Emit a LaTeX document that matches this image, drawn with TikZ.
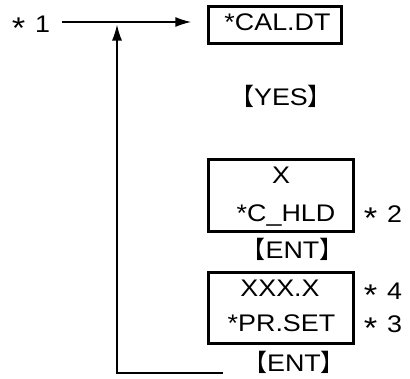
\documentclass[tikz,border=0pt]{standalone}
\usepackage{fontspec}
\setmainfont[FakeStretch=1.12]{Liberation Sans}
\newfontfamily\starfont[FakeStretch=1.15]{Liberation Sans}
\newfontfamily\cjk{Noto Sans CJK JP}
\newcommand{\bigstar}{{\fontsize{30}{30}\selectfont\starfont\raisebox{-6.5pt}[12pt][0pt]{*}}}
\usetikzlibrary{arrows.meta}
\begin{document}
\begin{tikzpicture}[x=1pt,y=-1pt,
  box/.style={draw, line width=3.4pt, inner sep=0pt},
  txt/.style={font=\fontsize{24}{28}\selectfont, inner sep=0pt, anchor=base},
  thin/.style={line width=1.5pt},
  arr/.style={thin, -{Latex[length=16pt,width=10pt]}}]
\useasboundingbox (0,0) rectangle (410,378);
% boxes
\node[box, minimum width=133pt, minimum height=37pt] (calbox) at (275,25) {};
\node[box, minimum width=145pt, minimum height=72pt] (hldbox) at (281,195.5) {};
\node[box, minimum width=145pt, minimum height=71pt] (setbox) at (281,308) {};
% texts
\node[txt] (cal) at (277.5,30.5) {*CAL.DT};
\node[txt] (yes) at (281,105.5) {{\cjk 【}YES{\cjk 】}};
\node[txt] (x1) at (281,183.5) {X};
\node[txt] (hld) at (286,221.5) {*C\_HLD};
\node[txt] (ent1) at (292.5,258.5) {{\cjk 【}ENT{\cjk 】}};
\node[txt] (xxx) at (280,296.5) {XXX.X};
\node[txt] (set) at (281.5,331.5) {*PR.SET};
\node[txt] (ent2) at (294,371.5) {{\cjk 【}ENT{\cjk 】}};
\node[txt] (s1) at (31,32) {\bigstar\hspace{10pt}1};
\node[txt] (s2) at (383,222) {\bigstar\hspace{10pt}2};
\node[txt] (s4) at (383,299) {\bigstar\hspace{10pt}4};
\node[txt] (s3) at (383,332) {\bigstar\hspace{10pt}3};
% connectors
\coordinate (j) at (117,22);
\coordinate (r) at (223,373);
\draw[arr, shorten <=12pt, shorten >=15.5pt] (s1.east |- j) -- (calbox.west |- j);
\draw[arr, shorten >=2.5pt] (r) -| (j);
\end{tikzpicture}
\end{document}
